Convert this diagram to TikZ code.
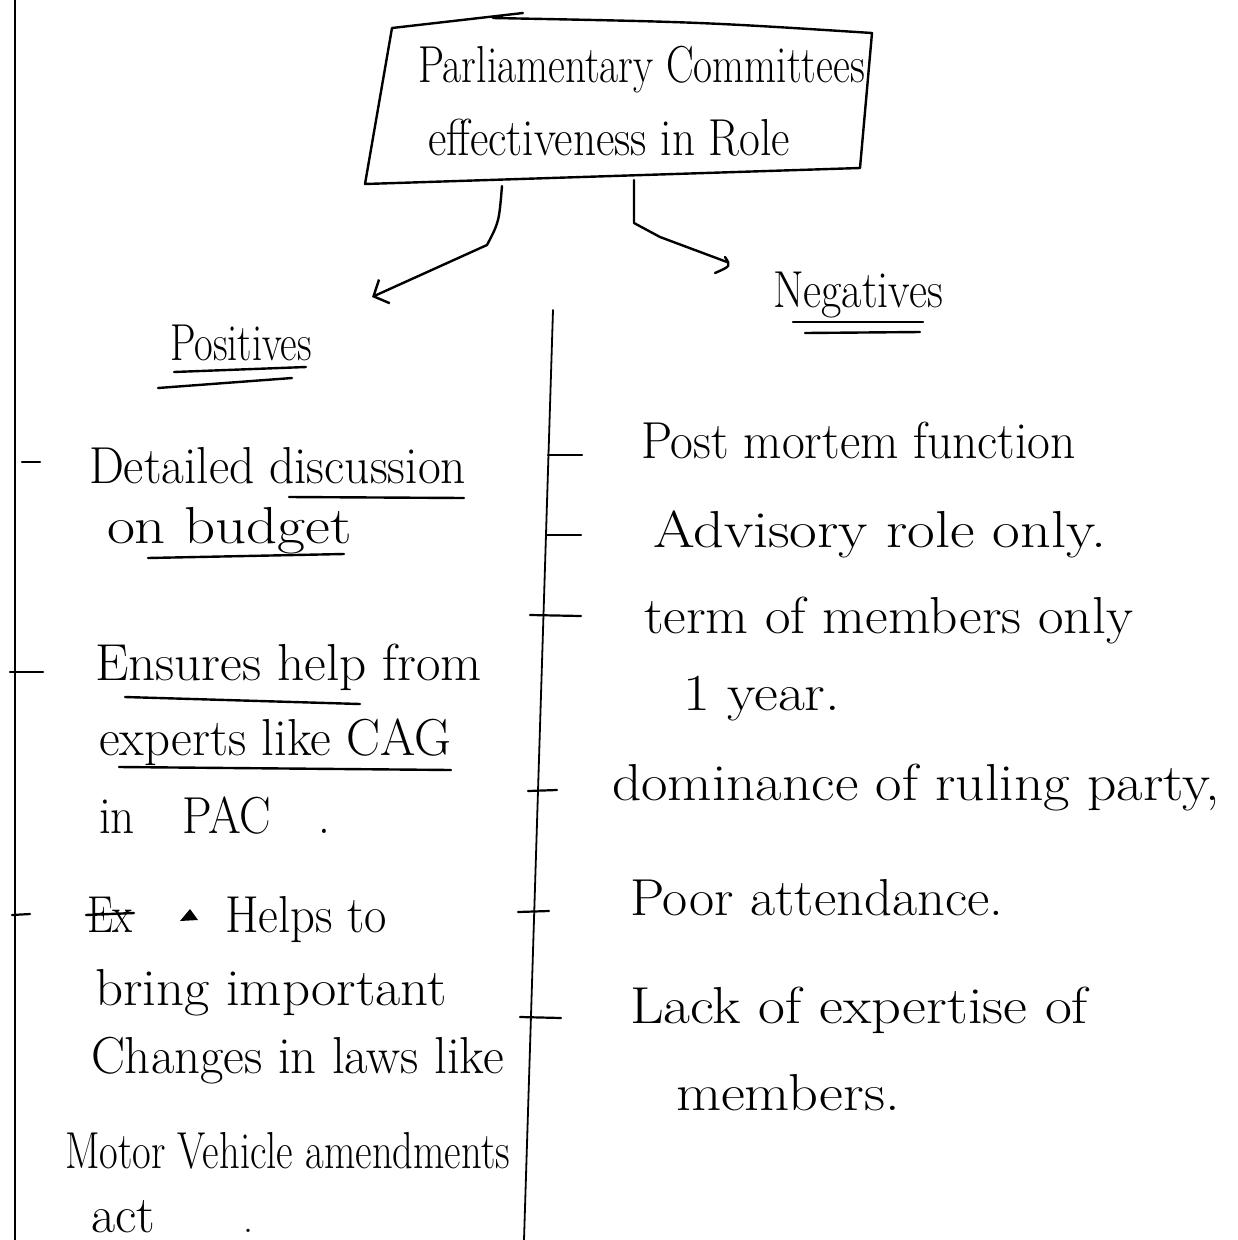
\documentclass[tikz,border=0pt]{standalone}
\usepackage{graphicx}
\usetikzlibrary{arrows.meta}
\newcommand{\hwtext}[2]{\resizebox{#1pt}{1.3\height}{#2}}
\begin{document}
\begin{tikzpicture}[x=1pt,y=-1pt,line cap=round,line join=round,
  ink/.style={line width=2.4pt},
  rule/.style={line width=1.8pt},
  hand/.style={anchor=base west,inner sep=0pt,outer sep=0pt,font=\fontsize{40}{48}\selectfont},
  tick/.style={line width=2.2pt},
  uline/.style={line width=2.4pt},
  tip/.style={-{Straight Barb[length=12pt,width=26pt,line width=2.4pt]}}]
\useasboundingbox (0,0) rectangle (1238,1240);
\fill[white] (0,0) rectangle (1238,1240);

% frame line on the left
\coordinate (frT) at (15,0);
\coordinate (frB) at (15,1240);
\draw[rule] (frT) -- (frB);

% title box
\node[hand] (t1) at (418,82) {\hwtext{447}{Parliamentary Committees}};
\node[hand] (t2) at (428,155) {\hwtext{362}{effectiveness in Role}};
\coordinate (bTL) at (392,28);
\coordinate (bTR) at (872,33);
\coordinate (bBR) at (860,168);
\coordinate (bBL) at (365,184);
\coordinate (bTop) at (523,13);
\coordinate (bTop2) at (493,18);
\draw[ink] (bTop) -- (bTL) -- (bBL) -- (bBR) -- (bTR) .. controls (700,22) .. (bTop2);

% headings
\node[hand] (pos) at (170,360) {\hwtext{142}{Positives}};
\node[hand] (neg) at (773,307) {\hwtext{170}{Negatives}};
\draw[uline] (174,372) -- (306,367);
\draw[uline] (158,388) -- (292,378);
\draw[uline] (793,322) -- (923,322);
\draw[uline] (805,333) -- (920,332);

% arrows from the box
\coordinate (aL0) at (502,186);
\coordinate (aL1) at (487,245);
\coordinate (aLend) at (372,297);
\draw[ink,tip] (aL0) .. controls (499,222) .. (aL1) -- (aLend);
\coordinate (aR0) at (634,180);
\coordinate (aR1) at (634,223);
\coordinate (aR2) at (660,237);
\coordinate (aRend) at (727,262);
\draw[ink] (aR0) -- (aR1) -- (aR2) -- (aRend);
\draw[ink] (725,257) .. controls (731,266) .. (715,273);

% divider
\coordinate (dT) at (553,310);
\coordinate (dB) at (524,1240);
\draw[rule] (dT) -- (dB);

% positives
\draw[tick] (22,462) -- (40,462);
\node[hand] (p1a) at (89,483) {\hwtext{377}{Detailed discussion}};
\node[hand] (p1b) at (107,543) {\hwtext{245}{on budget}};
\draw[uline] (289,497) -- (464,498);
\draw[uline] (148,558) -- (344,554);

\draw[tick] (10,672) -- (43,672);
\node[hand] (p2a) at (95,680) {\hwtext{387}{Ensures help from}};
\node[hand] (p2b) at (99,755) {\hwtext{352}{experts like CAG}};
\node[hand] (p2c) at (99,833) {\hwtext{231}{in\quad PAC\quad .}};
\draw[uline] (125,697) -- (360,704);
\draw[uline] (119,767) -- (451,770);

\draw[tick] (12,915) -- (30,914);
\node[hand] (p3x) at (87,932) {\hwtext{46}{Ex}};
\draw[ink] (86,915) -- (134,913);
\fill (180,921) -- (190,909) -- (198,920) -- cycle;
\node[hand] (p3a) at (225,932) {\hwtext{162}{Helps to}};
\node[hand] (p3b) at (95,1005) {\hwtext{352}{bring important}};
\node[hand] (p3c) at (91,1073) {\hwtext{413}{Changes in laws like}};
\node[hand] (p3d) at (65,1168) {\hwtext{445}{Motor Vehicle amendments}};
\node[hand] (p3e) at (91,1232) {\hwtext{64}{act}\hspace{88pt}.};

% negatives
\draw[tick] (548,455) -- (582,455);
\node[hand] (n1) at (641,458) {\hwtext{435}{Post mortem function}};
\draw[tick] (546,535) -- (581,535);
\node[hand] (n2) at (653,547) {\hwtext{453}{Advisory role only.}};
\draw[tick] (530,615) -- (581,616);
\node[hand] (n3a) at (644,633) {\hwtext{489}{term of members only}};
\node[hand] (n3b) at (683,710) {\hwtext{157}{1 year.}};
\draw[tick] (528,791) -- (557,790);
\node[hand] (n4) at (612,800) {\hwtext{608}{dominance of ruling party,}};
\draw[tick] (518,912) -- (549,911);
\node[hand] (n5) at (630,915) {\hwtext{373}{Poor attendance.}};
\draw[tick] (520,1017) -- (561,1018);
\node[hand] (n6a) at (630,1023) {\hwtext{458}{Lack of expertise of}};
\node[hand] (n6b) at (676,1110) {\hwtext{224}{members.}};
\end{tikzpicture}
\end{document}
